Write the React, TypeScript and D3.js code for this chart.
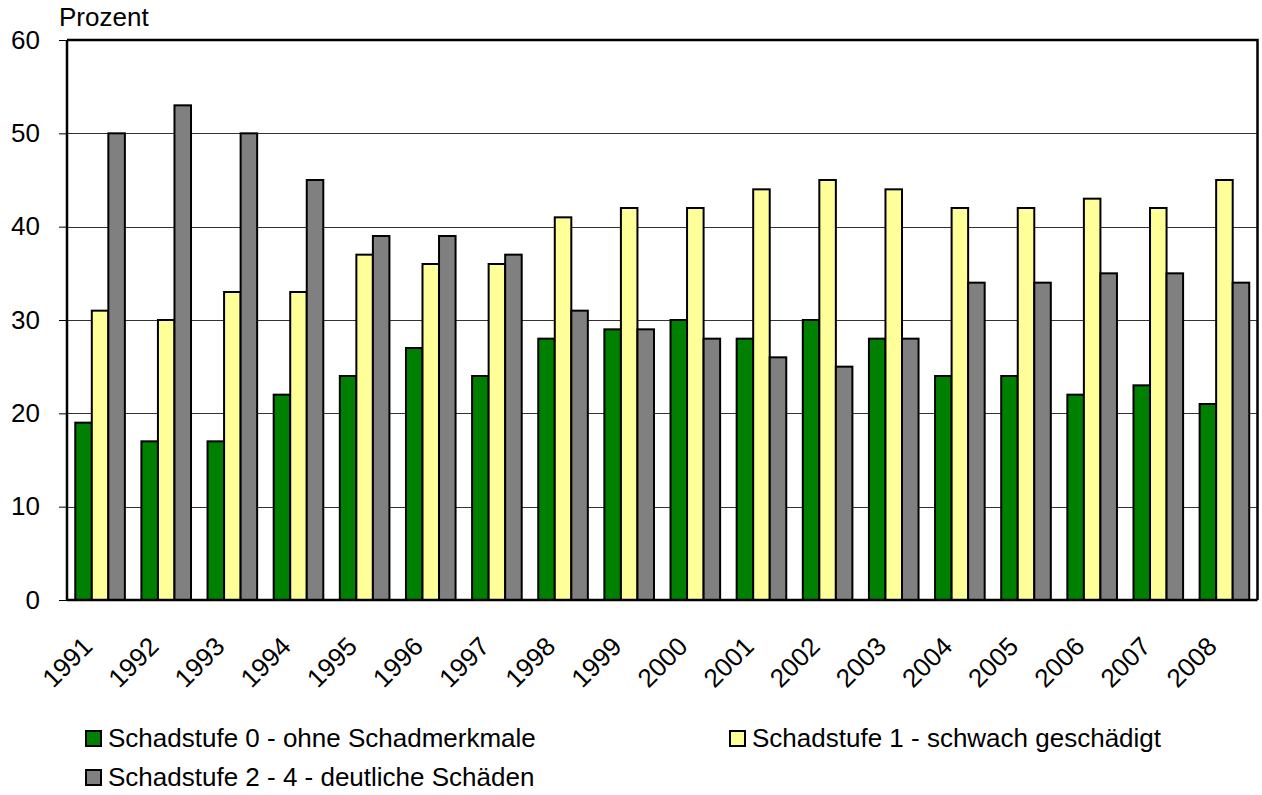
import { useRef, useEffect } from 'react';
import * as d3 from 'd3';

const years = ['1991', '1992', '1993', '1994', '1995', '1996', '1997', '1998', '1999', '2000', '2001', '2002', '2003', '2004', '2005', '2006', '2007', '2008'];
const stufe0 = [19, 17, 17, 22, 24, 27, 24, 28, 29, 30, 28, 30, 28, 24, 24, 22, 23, 21];
const stufe1 = [31, 30, 33, 33, 37, 36, 36, 41, 42, 42, 44, 45, 44, 42, 42, 43, 42, 45];
const stufe24 = [50, 53, 50, 45, 39, 39, 37, 31, 29, 28, 26, 25, 28, 34, 34, 35, 35, 34];
const seriesNames = [
  'Schadstufe 0 - ohne Schadmerkmale',
  'Schadstufe 1 - schwach geschädigt',
  'Schadstufe 2 - 4 - deutliche Schäden',
];
const yTicks = [0, 10, 20, 30, 40, 50, 60];

const colors = ['#008000', '#FFFF99', '#808080'];
const font = 'Arial, "Liberation Sans", sans-serif';

export default function App() {
  const ref = useRef<SVGSVGElement>(null);
  const width = 1262;
  const height = 795;
  const margin = { top: 40, right: 4.5, bottom: 195, left: 67 };

  useEffect(() => {
    if (!ref.current) return;
    const svg = d3.select(ref.current);
    svg.selectAll('*').remove();

    const innerWidth = width - margin.left - margin.right;
    const innerHeight = height - margin.top - margin.bottom;
    const series = [stufe0, stufe1, stufe24];

    const x = d3.scaleBand().domain(years).range([0, innerWidth]).paddingInner(0.25).paddingOuter(0.125);
    const x1 = d3.scaleBand().domain(['0', '1', '2']).range([0, x.bandwidth()]);
    const y = d3.scaleLinear().domain([0, 60]).range([innerHeight, 0]);

    const g = svg.append('g').attr('transform', `translate(${margin.left},${margin.top})`);

    // gridlines
    g.selectAll('line.grid')
      .data(yTicks.filter((t) => t > 0 && t < 60))
      .enter()
      .append('line')
      .attr('x1', 0)
      .attr('x2', innerWidth)
      .attr('y1', (d) => Math.round(y(d)) + 0.5)
      .attr('y2', (d) => Math.round(y(d)) + 0.5)
      .attr('stroke', '#333')
      .attr('stroke-width', 1);

    // bars
    series.forEach((vals, si) => {
      g.selectAll(`rect.s${si}`)
        .data(vals)
        .enter()
        .append('rect')
        .attr('x', (_, i) => x(years[i])! + x1(String(si))!)
        .attr('y', (d) => y(d))
        .attr('width', x1.bandwidth())
        .attr('height', (d) => innerHeight - y(d))
        .attr('fill', colors[si])
        .attr('stroke', '#000')
        .attr('stroke-width', 2);
    });

    // plot border
    g.append('path')
      .attr('d', `M0,0H${innerWidth}V${innerHeight}`)
      .attr('fill', 'none')
      .attr('stroke', '#000')
      .attr('stroke-width', 2.5);

    // y axis
    const yAxis = g.append('g').call(d3.axisLeft(y).tickValues(yTicks).tickSize(8).tickPadding(19));
    yAxis.select('.domain').attr('stroke', '#000').attr('stroke-width', 2.5).attr('d', `M0,0V${innerHeight}`);
    yAxis.selectAll('.tick line').attr('stroke', '#000').attr('stroke-width', 1);
    yAxis.selectAll('text').attr('font-family', font).attr('font-size', 26).attr('fill', '#000');

    // x axis baseline
    g.append('line')
      .attr('x1', 0)
      .attr('x2', innerWidth)
      .attr('y1', innerHeight)
      .attr('y2', innerHeight)
      .attr('stroke', '#000')
      .attr('stroke-width', 2.5);

    // x labels
    g.selectAll('text.xl')
      .data(years)
      .enter()
      .append('text')
      .attr('transform', (d) => `translate(${x(d)! + x.bandwidth() / 2 - 6},${innerHeight + 48}) rotate(-45)`)
      .attr('text-anchor', 'end')
      .attr('font-family', font)
      .attr('font-size', 26)
      .text((d) => d);

    // y title
    svg.append('text')
      .attr('x', 59)
      .attr('y', 26)
      .attr('font-family', font)
      .attr('font-size', 26)
      .text('Prozent');

    // legend
    const legendPos = [
      { x: 86, y: 731 },
      { x: 730, y: 731 },
      { x: 86, y: 770 },
    ];
    legendPos.forEach((p, i) => {
      svg.append('rect')
        .attr('x', p.x)
        .attr('y', p.y)
        .attr('width', 15)
        .attr('height', 15)
        .attr('fill', colors[i])
        .attr('stroke', '#000')
        .attr('stroke-width', 2);
      svg.append('text')
        .attr('x', p.x + 22)
        .attr('y', p.y + 16)
        .attr('font-family', font)
        .attr('font-size', 26)
        .text(seriesNames[i]);
    });
  }, []);

  return (
    <svg
      ref={ref}
      width={width}
      height={height}
      style={{ position: 'absolute', left: 0, top: 0, background: '#fff' }}
    />
  );
}
